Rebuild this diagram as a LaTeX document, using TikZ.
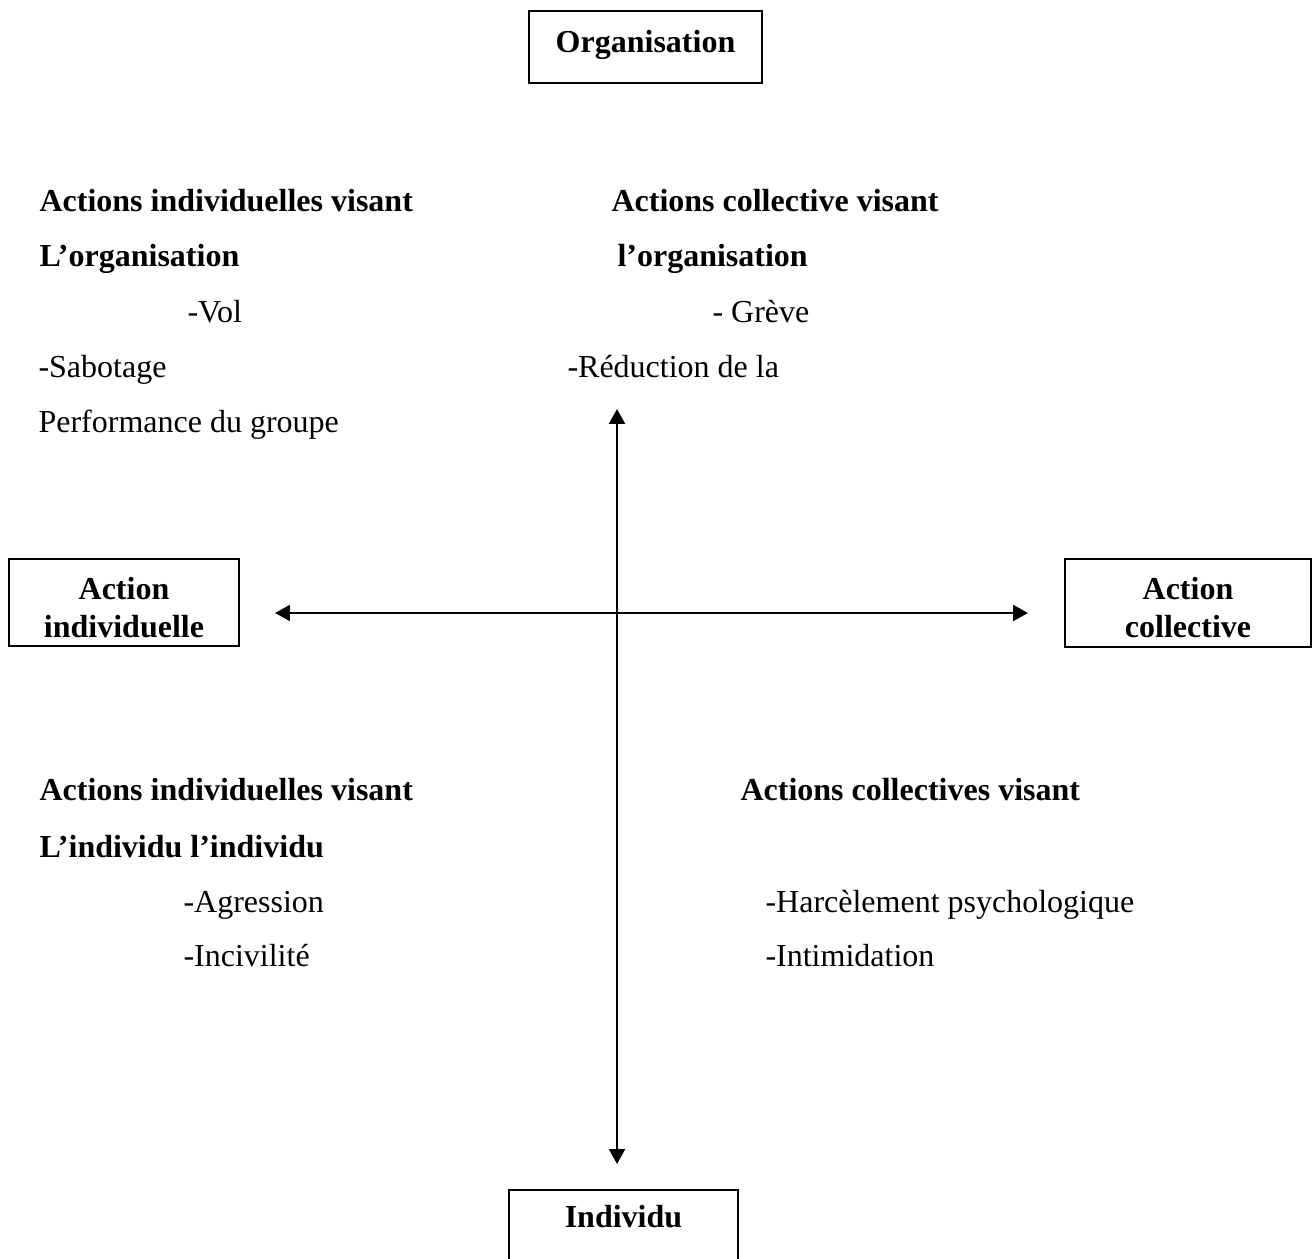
\documentclass[tikz,border=0pt]{standalone}
\usepackage{fontspec}
\setmainfont{Liberation Serif}
\usetikzlibrary{arrows.meta}

\begin{document}
\begin{tikzpicture}[x=0.375pt, y=-0.375pt,
    every node/.style={font=\fontsize{12}{13.8}\selectfont},
    labelbox/.style={draw, line width=0.75pt, align=center, inner sep=0pt, anchor=north,
      font=\fontsize{12}{14.25}\selectfont\bfseries},
    head/.style={anchor=base west, inner sep=0pt, font=\fontsize{12}{13.8}\selectfont\bfseries},
    item/.style={anchor=base west, inner sep=0pt},
    axis/.style={line width=0.75pt, {Triangle[length=5.6pt,width=6pt]}-{Triangle[length=5.6pt,width=6pt]}}]

  % page frame
  \clip (0,0) rectangle (1316,1259);
  \useasboundingbox (0,0) rectangle (1316,1259);

  % boxes at the ends of the two axes (text height runs to the last baseline)
  \node[labelbox, minimum width=87.4pt, text height=15.75pt, text depth=11.25pt] (org) at (645.5,10) {Organisation};
  \node[labelbox, minimum width=86.25pt, text height=29.6pt, text depth=3pt] (indact) at (124,558) {Action\\individuelle};
  \node[labelbox, minimum width=92.25pt, text height=29.6pt, text depth=3.4pt] (colact) at (1188,558) {Action\\collective};
  \node[labelbox, minimum width=85.9pt, text height=13.9pt, text depth=18.4pt] (ind) at (623.5,1189) {Individu};

  % axes
  \coordinate (hl) at (275,613);
  \coordinate (hr) at (1028,613);
  \coordinate (vt) at (617,409);
  \coordinate (vb) at (617,1164);
  \draw[axis] (hl) -- (hr);
  \draw[axis] (vt) -- (vb);

  % upper left quadrant
  \node[head] (ulh1) at (39,212) {Actions individuelles visant};
  \node[head] (ulh2) at (39,267) {L’organisation};
  \node[item] (ul1) at (187,323) {-Vol};
  \node[item] (ul2) at (38,378) {-Sabotage};
  \node[item] (ul3) at (38,433) {Performance du groupe};

  % upper right quadrant
  \node[head] (urh1) at (611,212) {Actions collective visant};
  \node[head] (urh2) at (617,267) {l’organisation};
  \node[item] (ur1) at (712,323) {- Grève};
  \node[item] (ur2) at (567,378) {-Réduction de la};

  % lower left quadrant
  \node[head] (llh1) at (39,800) {Actions individuelles visant};
  \node[head] (llh2) at (39,857) {L’individu l’individu};
  \node[item] (ll1) at (183,912) {-Agression};
  \node[item] (ll2) at (183,966) {-Incivilité};

  % lower right quadrant
  \node[head] (lrh1) at (740,800) {Actions collectives visant};
  \node[item] (lr1) at (765,912) {-Harcèlement psychologique};
  \node[item] (lr2) at (765,966) {-Intimidation};
\end{tikzpicture}
\end{document}
